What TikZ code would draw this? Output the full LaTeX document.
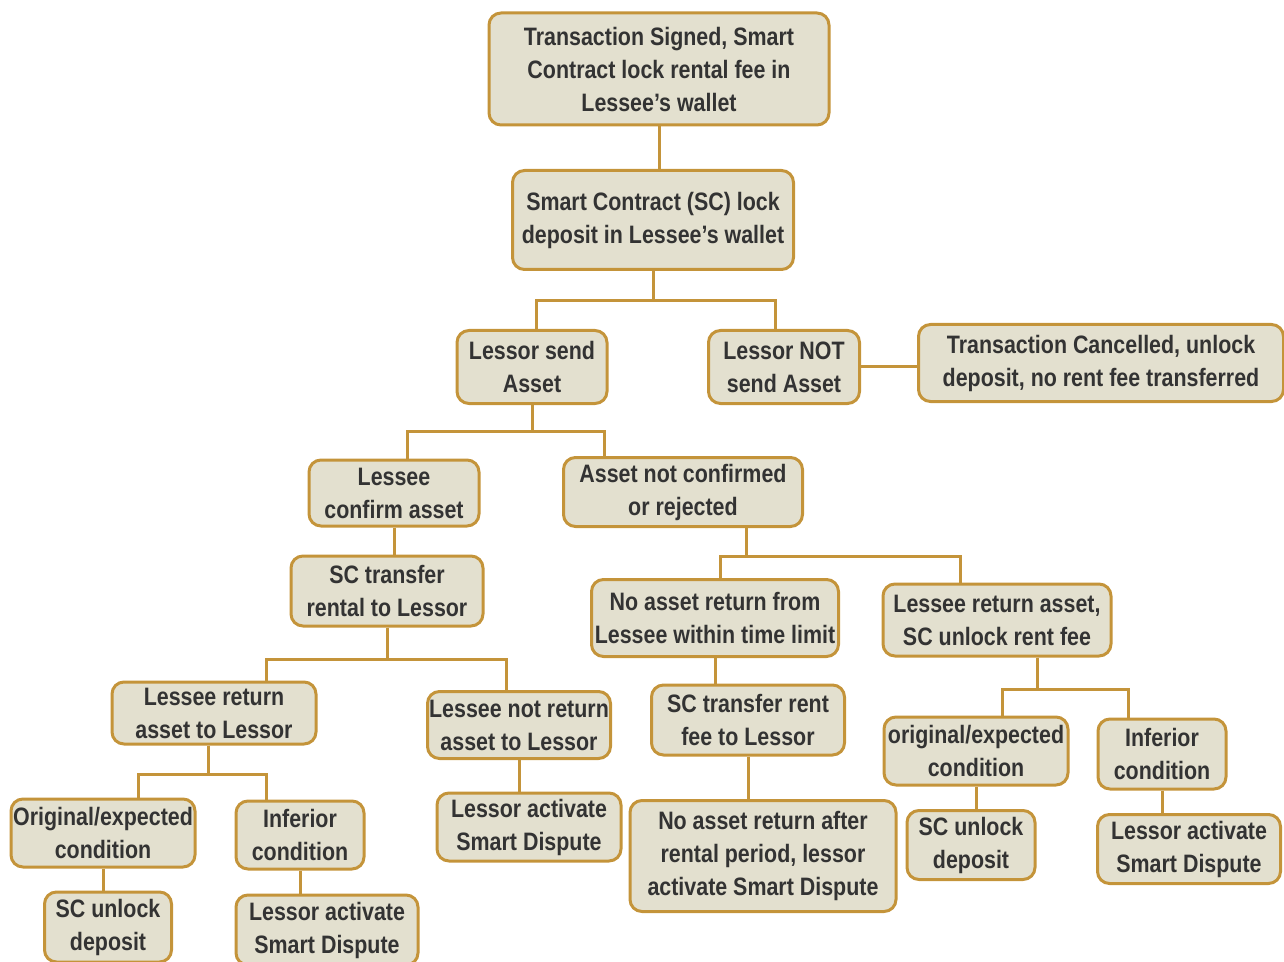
\documentclass[tikz,border=0pt]{standalone}
\usepackage{fontspec}
\setmainfont{Liberation Sans}[FakeStretch=0.85]
\definecolor{boxline}{HTML}{C4943A}
\definecolor{boxfill}{HTML}{E3E0CF}
\definecolor{boxtext}{HTML}{333333}
\begin{document}
\begin{tikzpicture}[x=0.5pt,y=-0.5pt]
        \tikzstyle{step box}=[rectangle,rounded corners=6pt,line width=1.5pt,draw=boxline,fill=boxfill,text=boxtext,
                              align=center,inner sep=0pt,font=\fontsize{12.6}{16.5}\selectfont\bfseries]
        \tikzstyle{edge}=[draw,line width=1.5pt,boxline]
        \useasboundingbox (0,0) rectangle (1284,962);
       \begin{scope}
         \node [step box,minimum width=170pt,minimum height=56pt] (n1) at (659,69) {Transaction Signed, Smart\\Contract lock rental fee in\\Lessee’s wallet};
         \node [step box,minimum width=140.5pt,minimum height=49.5pt] (n2) at (653,220) {Smart Contract (SC) lock\\deposit in Lessee’s wallet};
         \node [step box,minimum width=75pt,minimum height=36.5pt] (n3) at (532,367) {Lessor send\\Asset};
         \node [step box,minimum width=75.5pt,minimum height=36.5pt] (n4) at (784,367) {Lessor NOT\\send Asset};
         \node [step box,minimum width=182.5pt,minimum height=38.5pt] (n5) at (1101,363) {Transaction Cancelled, unlock\\deposit, no rent fee transferred};
         \node [step box,minimum width=85pt,minimum height=33pt] (n6) at (394,493) {Lessee\\confirm asset};
         \node [step box,minimum width=119.5pt,minimum height=34.5pt] (n7) at (683,492) {Asset not confirmed\\or rejected};
         \node [step box,minimum width=96pt,minimum height=35pt] (n8) at (387,591) {SC transfer\\rental to Lessor};
         \node [step box,minimum width=123.5pt,minimum height=38.5pt] (n9) at (715,618) {No asset return from\\Lessee within time limit};
         \node [step box,minimum width=114pt,minimum height=36pt] (n10) at (997,620) {Lessee return asset,\\SC unlock rent fee};
         \node [step box,minimum width=102pt,minimum height=31pt] (n11) at (214,713) {Lessee return\\asset to Lessor};
         \node [step box,minimum width=91.5pt,minimum height=33.5pt] (n12) at (519,725) {Lessee not return\\asset to Lessor};
         \node [step box,minimum width=96.5pt,minimum height=35pt] (n13) at (748,720) {SC transfer rent\\fee to Lessor};
         \node [step box,minimum width=92pt,minimum height=34pt] (n14) at (976,751) {original/expected\\condition};
         \node [step box,minimum width=64pt,minimum height=35pt] (n15) at (1162,754) {Inferior\\condition};
         \node [step box,minimum width=92pt,minimum height=34pt] (n16) at (103,833) {Original/expected\\condition};
         \node [step box,minimum width=64pt,minimum height=34pt] (n17) at (300,835) {Inferior\\condition};
         \node [step box,minimum width=92pt,minimum height=34pt] (n18) at (529,827) {Lessor activate\\Smart Dispute};
         \node [step box,minimum width=133pt,minimum height=55.5pt] (n19) at (763,856) {No asset return after\\rental period, lessor\\activate Smart Dispute};
         \node [step box,minimum width=64pt,minimum height=34.5pt] (n20) at (971,845) {SC unlock\\deposit};
         \node [step box,minimum width=91.5pt,minimum height=34.5pt] (n21) at (1189,849) {Lessor activate\\Smart Dispute};
         \node [step box,minimum width=63.5pt,minimum height=35pt] (n22) at (108,927) {SC unlock\\deposit};
         \node [step box,minimum width=91pt,minimum height=35pt] (n23) at (327,930) {Lessor activate\\Smart Dispute};
         % straight links
         \path[edge] (n1.south) -- (n1.south |- n2.north);
         \path[edge] (n4.east) -- (n4.east -| n5.west);
         \path[edge] (n6.south) -- (n6.south |- n8.north);
         \path[edge] (n9.south) -- (n9.south |- n13.north);
         \path[edge] (n13.south) -- (n13.south |- n19.north);
         \path[edge] (n12.south) -- (n12.south |- n18.north);
         \path[edge] (n14.south) -- (n14.south |- n20.north);
         \path[edge] (n15.south) -- (n15.south |- n21.north);
         \path[edge] (n16.south) -- (n16.south |- n22.north);
         \path[edge] (n17.south) -- (n17.south |- n23.north);
         % forks
         \path[edge] (n2.south) -- ++(0,30) -| ([xshift=2pt]n3.north);
         \path[edge] (n2.south) -- ++(0,30) -| ([xshift=-4.5pt]n4.north);
         \path[edge] (n3.south) -- ++(0,26) -| ([xshift=6.5pt]n6.north);
         \path[edge] (n3.south) -- ++(0,26) -| ([xshift=-39.5pt]n7.north);
         \path[edge] ([xshift=31.5pt]n7.south) -- ++(0,28) -| ([xshift=2.5pt]n9.north);
         \path[edge] ([xshift=31.5pt]n7.south) -- ++(0,28) -| ([xshift=-18.5pt]n10.north);
         \path[edge] (n8.south) -- ++(0,32) -| ([xshift=26pt]n11.north);
         \path[edge] (n8.south) -- ++(0,32) -| ([xshift=-6.5pt]n12.north);
         \path[edge] ([xshift=20pt]n10.south) -- ++(0,32) -| ([xshift=13pt]n14.north);
         \path[edge] ([xshift=20pt]n10.south) -- ++(0,32) -| ([xshift=-17pt]n15.north);
         \path[edge] ([xshift=-3pt]n11.south) -- ++(0,29) -| ([xshift=17.5pt]n16.north);
         \path[edge] ([xshift=-3pt]n11.south) -- ++(0,29) -| ([xshift=-17pt]n17.north);
        \end{scope}
      \end{tikzpicture}
\end{document}
